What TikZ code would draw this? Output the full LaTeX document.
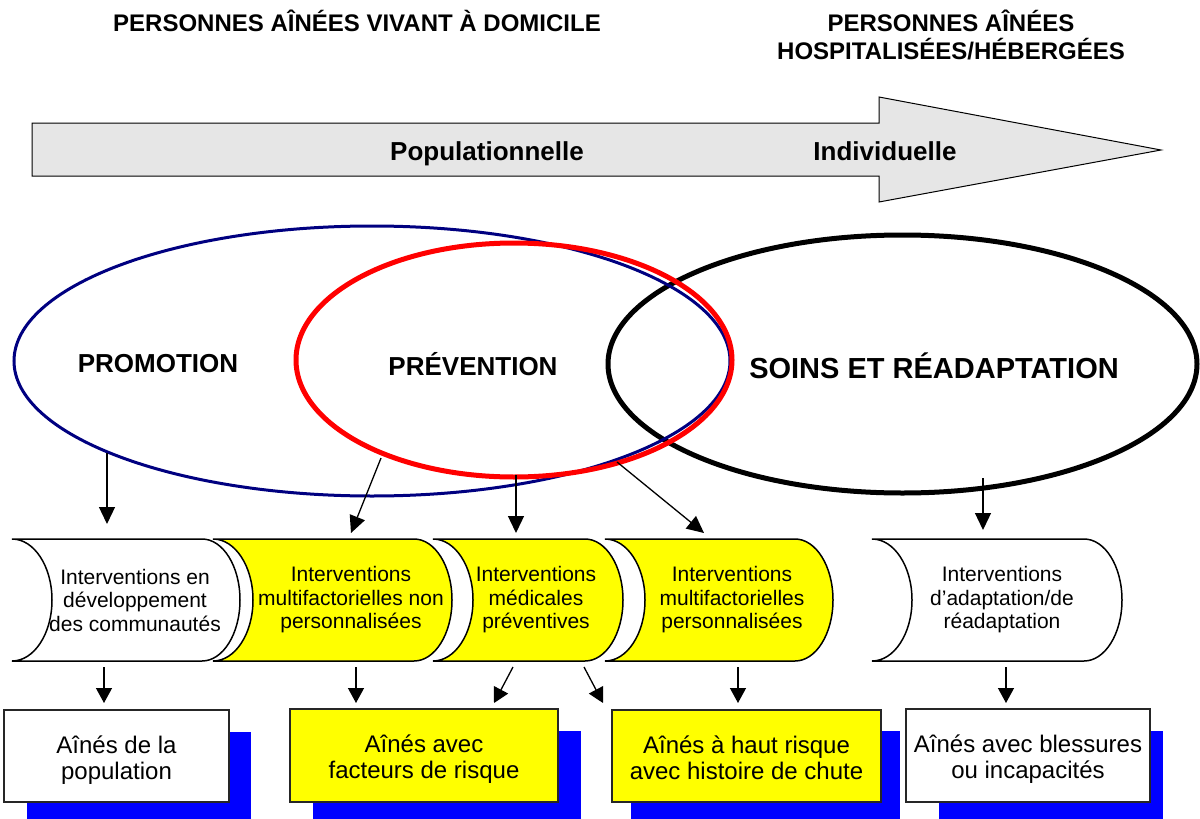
\documentclass[tikz,border=0pt]{standalone}
\usepackage{fontspec}
\setmainfont{Liberation Sans}
\usetikzlibrary{arrows.meta,shapes.geometric}

\definecolor{promoblue}{RGB}{0,0,128}
\definecolor{bandyellow}{RGB}{255,255,0}
\definecolor{shadowblue}{RGB}{0,0,255}
\definecolor{arrowgray}{RGB}{230,230,230}

% band with a concave left side and a convex right side
\newcommand\bandshape[3]{%
  \draw[bandline, fill=#3] (#1,539) -- (#2,539)
    arc[start angle=-90, end angle=90, x radius=38, y radius=61]
    -- (#1,661)
    arc[start angle=90, end angle=-90, x radius=40, y radius=61] -- cycle;}

\begin{document}
\begin{tikzpicture}[x=1pt, y=-1pt,
  every node/.style={inner sep=0pt, outer sep=0pt},
  titletext/.style={font=\fontsize{24}{28}\selectfont\bfseries, align=center},
  scaletext/.style={font=\fontsize{26}{30}\selectfont\bfseries, anchor=base},
  circletext/.style={font=\fontsize{26}{30}\selectfont\bfseries},
  bigcircletext/.style={font=\fontsize{29}{33}\selectfont\bfseries},
  bigarrow/.style={draw=black, line width=1pt, fill=arrowgray},
  zone/.style={ellipse, line width=#1},
  bandline/.style={draw=black, line width=1.5pt},
  bandtext/.style={font=\fontsize{21}{23.5}\selectfont, align=center},
  groupbox/.style={draw=black!85, line width=1.5pt},
  grouptext/.style={font=\fontsize{24}{26}\selectfont, align=center},
  shadow/.style={fill=shadowblue},
  arr/.style={line width=1.3pt, -{Triangle[length=17pt, width=16pt]}},
  smallarr/.style={line width=1.3pt, -{Triangle[length=15pt, width=16pt]}}]

\useasboundingbox (0,0) rectangle (1200,819);

% headings
\node[titletext, anchor=base] (home) at (357,31) {PERSONNES AÎNÉES VIVANT À DOMICILE};
\node[titletext, anchor=base] (hosp1) at (951,31) {PERSONNES AÎNÉES};
\node[titletext, anchor=base] (hosp2) at (951,59) {HOSPITALISÉES/HÉBERGÉES};

% population-to-individual scale
\draw[bigarrow] (32,123) -- (879,123) -- (879,97) -- (1161,150)
  -- (879,202) -- (879,176) -- (32,176) -- cycle;
\node[scaletext] (popu) at (487,160) {Populationnelle};
\node[scaletext] (indiv) at (885,160) {Individuelle};

% overlapping zones
\node[zone=5pt, draw=black, minimum width=589pt, minimum height=258pt] (soins) at (902.5,364) {};
\node[zone=3pt, draw=promoblue, minimum width=716pt, minimum height=270pt] (promo) at (372,361) {};
\node[zone=5pt, draw=red, minimum width=436pt, minimum height=234pt] (prev) at (514,360) {};

\node[circletext] (promolabel) at (158,364) {PROMOTION};
\node[circletext] (prevlabel) at (473,364) {PRÉVENTION};
\node[bigcircletext] (soinslabel) at (934,366) {SOINS ET RÉADAPTATION};

% intervention bands
\bandshape{12}{202}{white}
\bandshape{213}{414}{bandyellow}
\bandshape{433}{585}{bandyellow}
\bandshape{605}{795}{bandyellow}
\bandshape{872}{1084}{white}

\node[bandtext] (b1) at (135,600) {Interventions en\\développement\\des communautés};
\node[bandtext] (b2) at (351,600) {Interventions\\multifactorielles non\\personnalisées};
\node[bandtext] (b3) at (536,600) {Interventions\\médicales\\préventives};
\node[bandtext] (b4) at (732,600) {Interventions\\multifactorielles\\personnalisées};
\node[bandtext] (b5) at (1002,600) {Interventions\\d’adaptation/de\\réadaptation};

% target groups with offset shadows
\fill[shadow] (27,732) rectangle (251,819);
\fill[shadow] (313,731) rectangle (581,819);
\fill[shadow] (631,731) rectangle (900,819);
\fill[shadow] (939,731) rectangle (1163,819);

\node[groupbox, fill=white, minimum width=225pt, minimum height=92pt] (g1) at (116.5,756) {};
\node[groupbox, fill=bandyellow, minimum width=268pt, minimum height=93pt] (g2) at (424,755.5) {};
\node[groupbox, fill=bandyellow, minimum width=269pt, minimum height=92pt] (g3) at (746.5,756) {};
\node[groupbox, fill=white, minimum width=244pt, minimum height=93pt] (g4) at (1028,755.5) {};

\node[grouptext] (g1text) at ([yshift=-5]g1.center) {\strut Aînés de la\\population\strut};
\node[grouptext] (g2text) at ([yshift=-5]g2.center) {\strut Aînés avec\\facteurs de risque\strut};
\node[grouptext] (g3text) at ([yshift=-5]g3.center) {\strut Aînés à haut risque\\avec histoire de chute\strut};
\node[grouptext] (g4text) at ([yshift=-5]g4.center) {\strut Aînés avec blessures\\ou incapacités\strut};

% arrows from zones to bands
\coordinate (z1) at (107,453);  \coordinate (t1) at (107,524);
\coordinate (z2) at (381,458);  \coordinate (t2) at (351,533);
\coordinate (z3) at (516,475);  \coordinate (t3) at (516,533);
\coordinate (z4) at (617,462);  \coordinate (t4) at (704,533);
\coordinate (z5) at (983,478);  \coordinate (t5) at (983,530);
\draw[arr] (z1) -- (t1);
\draw[arr] (z2) -- (t2);
\draw[arr] (z3) -- (t3);
\draw[arr] (z4) -- (t4);
\draw[arr] (z5) -- (t5);

% arrows from bands to groups
\coordinate (c1) at (104,667);  \coordinate (d1) at (104,703);
\coordinate (c2) at (356,667);  \coordinate (d2) at (356,703);
\coordinate (c3) at (513,667);  \coordinate (d3) at (494,703);
\coordinate (c4) at (584,667);  \coordinate (d4) at (603,703);
\coordinate (c5) at (738,667);  \coordinate (d5) at (738,703);
\coordinate (c6) at (1006,667); \coordinate (d6) at (1006,703);
\draw[smallarr] (c1) -- (d1);
\draw[smallarr] (c2) -- (d2);
\draw[smallarr] (c3) -- (d3);
\draw[smallarr] (c4) -- (d4);
\draw[smallarr] (c5) -- (d5);
\draw[smallarr] (c6) -- (d6);
\end{tikzpicture}
\end{document}
